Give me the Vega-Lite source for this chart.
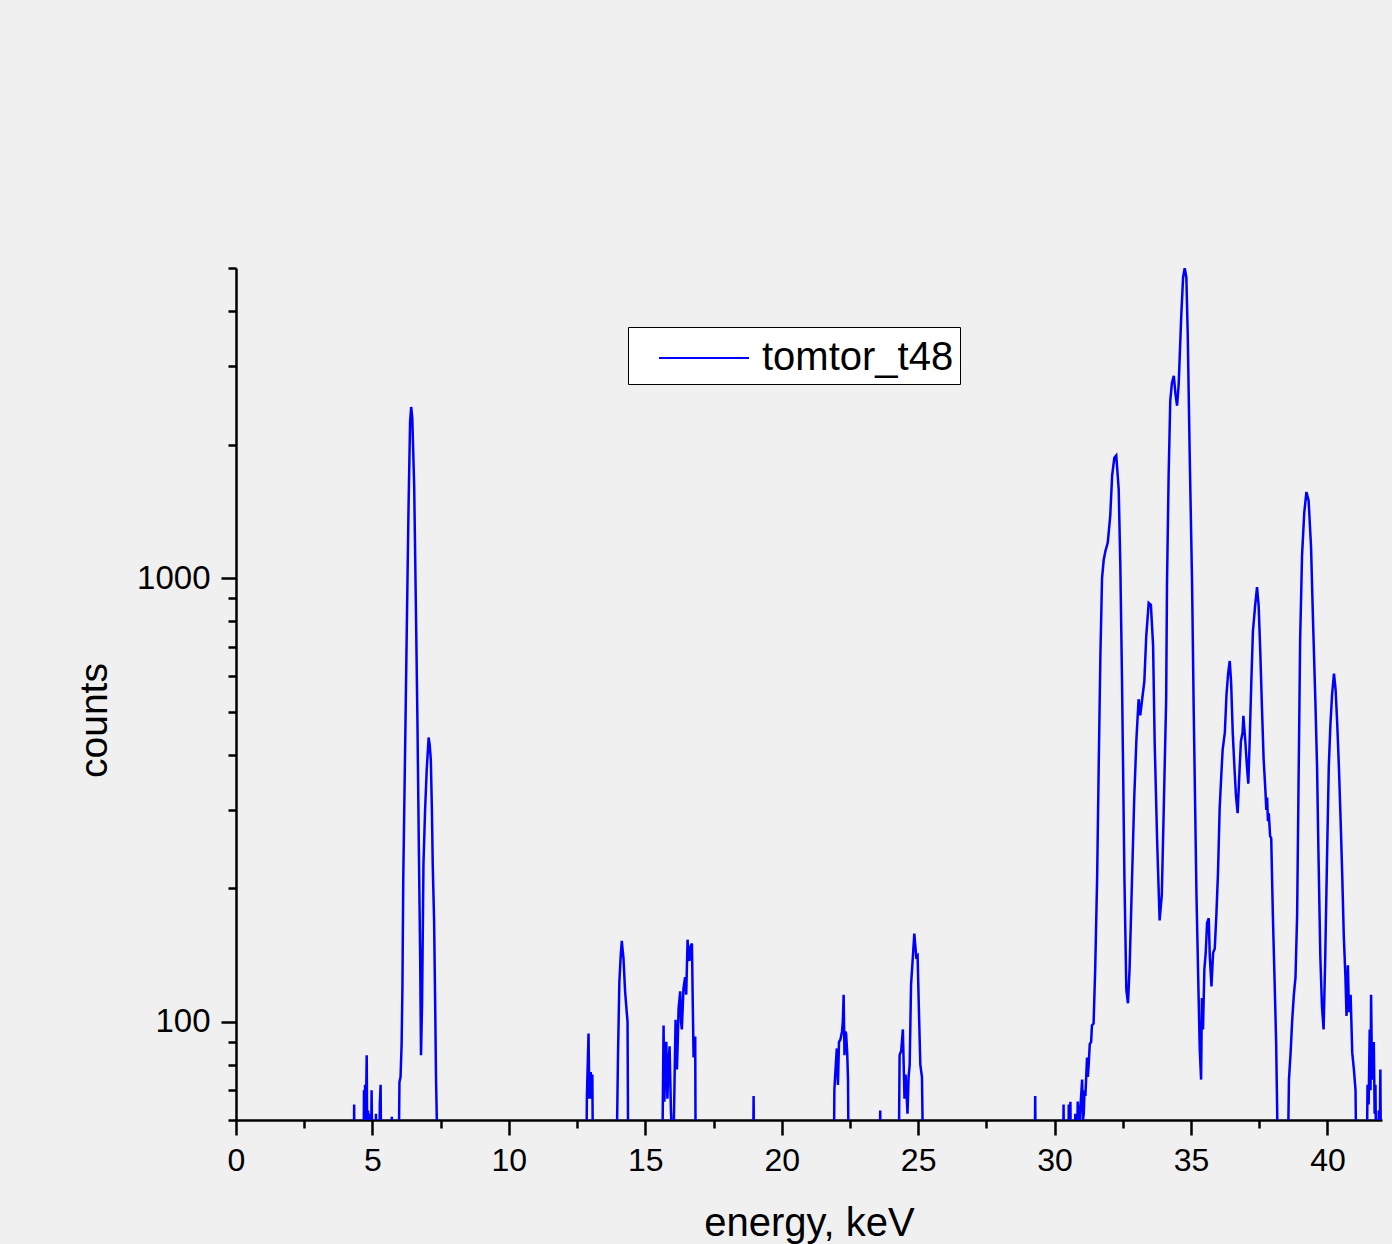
{
  "$schema": "https://vega.github.io/schema/vega-lite/v6.json",
  "width": 1146,
  "height": 852,
  "autosize": {"type": "none"},
  "padding": {"left": 236, "top": 268, "right": 10, "bottom": 124},
  "background": "#f0f0f0",
  "config": {
    "view": {"stroke": null},
    "axis": {"grid": false, "domainColor": "black", "tickColor": "black", "labelColor": "black", "titleColor": "black", "labelFont": "Liberation Sans", "titleFont": "Liberation Sans", "titleFontWeight": "normal", "domainWidth": 2.5, "tickWidth": 2.5}
  },
  "data": {"values": [
    {"e":4.0,"c":40},{"e":4.31,"c":40},{"e":4.33,"c":65},{"e":4.35,"c":40},
    {"e":4.67,"c":40},{"e":4.69,"c":70},{"e":4.71,"c":55},{"e":4.73,"c":72},{"e":4.76,"c":60},{"e":4.79,"c":84},{"e":4.81,"c":55},{"e":4.84,"c":63},{"e":4.86,"c":50},{"e":4.9,"c":40},{"e":4.92,"c":62},{"e":4.95,"c":52},{"e":4.97,"c":70},{"e":5.0,"c":45},
    {"e":5.1,"c":40},{"e":5.13,"c":62},{"e":5.16,"c":40},{"e":5.25,"c":40},{"e":5.27,"c":65},{"e":5.3,"c":72},{"e":5.33,"c":40},
    {"e":5.68,"c":40},{"e":5.71,"c":61},{"e":5.74,"c":40},
    {"e":5.95,"c":40},{"e":5.99,"c":73},{"e":6.03,"c":75},{"e":6.07,"c":89},{"e":6.1,"c":120},{"e":6.13,"c":210},{"e":6.2,"c":420},{"e":6.26,"c":775},{"e":6.32,"c":1400},{"e":6.38,"c":2250},{"e":6.42,"c":2430},{"e":6.46,"c":2300},{"e":6.53,"c":1617},{"e":6.6,"c":800},{"e":6.65,"c":473},{"e":6.7,"c":250},{"e":6.75,"c":139},{"e":6.78,"c":84},{"e":6.82,"c":110},{"e":6.87,"c":226},{"e":6.93,"c":300},{"e":6.99,"c":370},{"e":7.06,"c":437},{"e":7.1,"c":420},{"e":7.14,"c":389},{"e":7.18,"c":300},{"e":7.21,"c":226},{"e":7.26,"c":169},{"e":7.3,"c":109},{"e":7.33,"c":75},{"e":7.36,"c":60},{"e":7.4,"c":40},
    {"e":12.83,"c":40},{"e":12.86,"c":68},{"e":12.92,"c":94},{"e":12.95,"c":67},{"e":13.0,"c":77},{"e":13.03,"c":67},{"e":13.06,"c":76},{"e":13.09,"c":40},
    {"e":13.93,"c":40},{"e":14.0,"c":84},{"e":14.05,"c":123},{"e":14.1,"c":141},{"e":14.14,"c":152},{"e":14.17,"c":145},{"e":14.2,"c":139},{"e":14.26,"c":117},{"e":14.32,"c":105},{"e":14.35,"c":100},{"e":14.38,"c":40},
    {"e":15.61,"c":40},{"e":15.67,"c":98},{"e":15.7,"c":66},{"e":15.74,"c":85},{"e":15.77,"c":90},{"e":15.81,"c":67},{"e":15.85,"c":80},{"e":15.89,"c":88},{"e":15.94,"c":63},{"e":15.98,"c":55},{"e":16.01,"c":45},{"e":16.06,"c":66},{"e":16.11,"c":101},{"e":16.16,"c":78},{"e":16.2,"c":95},{"e":16.22,"c":107},{"e":16.28,"c":117},{"e":16.31,"c":100},{"e":16.34,"c":96},{"e":16.4,"c":119},{"e":16.46,"c":126},{"e":16.5,"c":115},{"e":16.55,"c":153},{"e":16.58,"c":140},{"e":16.62,"c":137},{"e":16.66,"c":148},{"e":16.71,"c":150},{"e":16.74,"c":110},{"e":16.77,"c":83},{"e":16.8,"c":92},{"e":16.83,"c":92},{"e":16.85,"c":40},
    {"e":18.94,"c":40},{"e":18.97,"c":68},{"e":19.0,"c":40},
    {"e":21.9,"c":40},{"e":21.93,"c":70},{"e":21.96,"c":76},{"e":22.02,"c":87},{"e":22.06,"c":72},{"e":22.1,"c":90},{"e":22.15,"c":91},{"e":22.21,"c":95},{"e":22.24,"c":100},{"e":22.27,"c":115},{"e":22.3,"c":84},{"e":22.33,"c":95},{"e":22.36,"c":94},{"e":22.4,"c":85},{"e":22.43,"c":74},{"e":22.46,"c":40},
    {"e":23.58,"c":40},{"e":23.61,"c":63},{"e":23.64,"c":40},
    {"e":24.28,"c":40},{"e":24.32,"c":84},{"e":24.38,"c":86},{"e":24.44,"c":96},{"e":24.5,"c":67},{"e":24.54,"c":76},{"e":24.61,"c":62},{"e":24.65,"c":75},{"e":24.69,"c":80},{"e":24.74,"c":121},{"e":24.81,"c":141},{"e":24.86,"c":158},{"e":24.93,"c":140},{"e":24.98,"c":141},{"e":25.03,"c":105},{"e":25.08,"c":80},{"e":25.14,"c":75},{"e":25.2,"c":40},
    {"e":29.26,"c":40},{"e":29.29,"c":68},{"e":29.32,"c":40},
    {"e":30.3,"c":40},{"e":30.33,"c":65},{"e":30.36,"c":40},{"e":30.5,"c":40},{"e":30.52,"c":65},{"e":30.55,"c":45},{"e":30.58,"c":66},{"e":30.61,"c":40},{"e":30.73,"c":40},{"e":30.76,"c":62},{"e":30.8,"c":45},{"e":30.85,"c":66},{"e":30.9,"c":55},{"e":30.94,"c":63},{"e":31.01,"c":74},{"e":31.04,"c":60},{"e":31.07,"c":62},{"e":31.1,"c":70},{"e":31.13,"c":68},{"e":31.19,"c":83},{"e":31.22,"c":75},{"e":31.25,"c":80},{"e":31.29,"c":89},{"e":31.34,"c":90},{"e":31.37,"c":98},{"e":31.43,"c":99},{"e":31.49,"c":132},{"e":31.56,"c":211},{"e":31.62,"c":386},{"e":31.68,"c":674},{"e":31.74,"c":1000},{"e":31.8,"c":1098},{"e":31.86,"c":1148},{"e":31.95,"c":1202},{"e":32.04,"c":1381},{"e":32.11,"c":1703},{"e":32.19,"c":1867},{"e":32.26,"c":1889},{"e":32.35,"c":1588},{"e":32.41,"c":1070},{"e":32.47,"c":599},{"e":32.56,"c":211},{"e":32.63,"c":118},{"e":32.69,"c":110},{"e":32.75,"c":132},{"e":32.84,"c":211},{"e":32.92,"c":320},{"e":33.0,"c":433},{"e":33.08,"c":533},{"e":33.14,"c":490},{"e":33.21,"c":533},{"e":33.29,"c":585},{"e":33.36,"c":740},{"e":33.45,"c":879},{"e":33.53,"c":870},{"e":33.61,"c":706},{"e":33.67,"c":423},{"e":33.76,"c":254},{"e":33.85,"c":169},{"e":33.93,"c":193},{"e":34.0,"c":299},{"e":34.09,"c":533},{"e":34.12,"c":968},{"e":34.18,"c":1700},{"e":34.24,"c":2510},{"e":34.3,"c":2750},{"e":34.37,"c":2858},{"e":34.43,"c":2600},{"e":34.49,"c":2446},{"e":34.55,"c":2740},{"e":34.64,"c":3865},{"e":34.71,"c":4761},{"e":34.77,"c":5000},{"e":34.83,"c":4761},{"e":34.88,"c":3554},{"e":34.95,"c":1935},{"e":35.04,"c":968},{"e":35.1,"c":500},{"e":35.2,"c":194},{"e":35.28,"c":113},{"e":35.32,"c":87},{"e":35.37,"c":74},{"e":35.4,"c":113},{"e":35.44,"c":96},{"e":35.49,"c":131},{"e":35.54,"c":143},{"e":35.59,"c":167},{"e":35.65,"c":171},{"e":35.69,"c":140},{"e":35.75,"c":120},{"e":35.81,"c":143},{"e":35.87,"c":146},{"e":35.93,"c":174},{"e":35.99,"c":217},{"e":36.05,"c":302},{"e":36.11,"c":359},{"e":36.16,"c":410},{"e":36.2,"c":429},{"e":36.24,"c":448},{"e":36.3,"c":545},{"e":36.36,"c":609},{"e":36.42,"c":650},{"e":36.47,"c":582},{"e":36.53,"c":448},{"e":36.59,"c":376},{"e":36.65,"c":322},{"e":36.71,"c":295},{"e":36.77,"c":359},{"e":36.83,"c":429},{"e":36.89,"c":448},{"e":36.92,"c":489},{"e":36.99,"c":429},{"e":37.05,"c":376},{"e":37.1,"c":344},{"e":37.15,"c":429},{"e":37.21,"c":582},{"e":37.27,"c":759},{"e":37.35,"c":865},{"e":37.42,"c":954},{"e":37.48,"c":865},{"e":37.54,"c":679},{"e":37.6,"c":512},{"e":37.66,"c":393},{"e":37.73,"c":329},{"e":37.76,"c":300},{"e":37.79,"c":320},{"e":37.82,"c":283},{"e":37.85,"c":295},{"e":37.9,"c":262},{"e":37.94,"c":259},{"e":38.0,"c":174},{"e":38.06,"c":126},{"e":38.12,"c":90},{"e":38.16,"c":62},{"e":38.18,"c":40},
    {"e":38.53,"c":40},{"e":38.59,"c":74},{"e":38.65,"c":85},{"e":38.71,"c":101},{"e":38.77,"c":115},{"e":38.83,"c":126},{"e":38.89,"c":174},{"e":38.94,"c":337},{"e":39.0,"c":725},{"e":39.07,"c":1125},{"e":39.15,"c":1402},{"e":39.23,"c":1563},{"e":39.31,"c":1496},{"e":39.4,"c":1175},{"e":39.47,"c":809},{"e":39.56,"c":523},{"e":39.62,"c":376},{"e":39.67,"c":242},{"e":39.74,"c":140},{"e":39.8,"c":108},{"e":39.86,"c":96},{"e":39.92,"c":140},{"e":39.99,"c":242},{"e":40.05,"c":376},{"e":40.11,"c":468},{"e":40.17,"c":545},{"e":40.24,"c":609},{"e":40.3,"c":560},{"e":40.36,"c":468},{"e":40.42,"c":376},{"e":40.48,"c":289},{"e":40.54,"c":217},{"e":40.6,"c":156},{"e":40.66,"c":126},{"e":40.7,"c":103},{"e":40.75,"c":134},{"e":40.79,"c":105},{"e":40.85,"c":115},{"e":40.91,"c":85},{"e":40.97,"c":78},{"e":41.03,"c":70},{"e":41.07,"c":40},
    {"e":41.43,"c":40},{"e":41.47,"c":72},{"e":41.51,"c":65},{"e":41.55,"c":96},{"e":41.58,"c":70},{"e":41.6,"c":115},{"e":41.63,"c":80},{"e":41.65,"c":74},{"e":41.7,"c":90},{"e":41.73,"c":62},{"e":41.76,"c":72},{"e":41.8,"c":40},{"e":41.86,"c":40},{"e":41.88,"c":63},{"e":41.91,"c":50},{"e":41.94,"c":78},{"e":41.97,"c":40},{"e":42.0,"c":40}
  ]},
  "transform": [{"calculate": "'tomtor_t48'", "as": "series"}],
  "mark": {"type": "line", "clip": true, "strokeWidth": 2.5, "interpolate": "linear"},
  "encoding": {
    "x": {
      "field": "e", "type": "quantitative",
      "scale": {"domain": [0, 42], "nice": false, "zero": false},
      "axis": {
        "title": "energy, keV", "titleFontSize": 40, "titleY": 115, "titleBaseline": "alphabetic",
        "values": [0, 2.5, 5, 7.5, 10, 12.5, 15, 17.5, 20, 22.5, 25, 27.5, 30, 32.5, 35, 37.5, 40],
        "labelExpr": "datum.value % 5 === 0 ? format(datum.value, 'd') : ''",
        "labelFontSize": 32, "labelPadding": 10, "labelOverlap": false, "labelFlush": false,
        "tickSize": {"condition": {"test": "datum.value % 5 === 0", "value": 15}, "value": 8}
      }
    },
    "y": {
      "field": "c", "type": "quantitative",
      "scale": {"type": "log", "domain": [60, 5000], "nice": false},
      "axis": {
        "title": "counts", "titleFontSize": 39, "titleX": -130, "titleY": 452, "titleAngle": -90, "titleBaseline": "alphabetic", "titleAlign": "center",
        "values": [60, 70, 80, 90, 100, 200, 300, 400, 500, 600, 700, 800, 900, 1000, 2000, 3000, 4000, 5000],
        "labelExpr": "datum.value === 100 ? '100' : datum.value === 1000 ? '1000' : ''",
        "labelFontSize": 33, "labelPadding": 11, "labelOverlap": false, "labelFlush": false,
        "tickSize": {"condition": {"test": "datum.value === 100 || datum.value === 1000", "value": 15}, "value": 8}
      }
    },
    "color": {
      "field": "series", "type": "nominal",
      "scale": {"domain": ["tomtor_t48"], "range": ["#0000ff"]},
      "legend": {
        "title": null, "orient": "none", "legendX": 392, "legendY": 59,
        "fillColor": "white", "strokeColor": "black", "padding": 6, "cornerRadius": 0,
        "symbolType": "M-5,0.55H5", "symbolSize": 324, "symbolStrokeWidth": 2, "symbolOffset": 50,
        "labelFont": "Liberation Sans", "labelFontSize": 40, "labelColor": "black", "labelOffset": 38, "labelLimit": 500,
        "encode": {"labels": {"update": {"dy": {"value": 5}}}}
      }
    }
  }
}
